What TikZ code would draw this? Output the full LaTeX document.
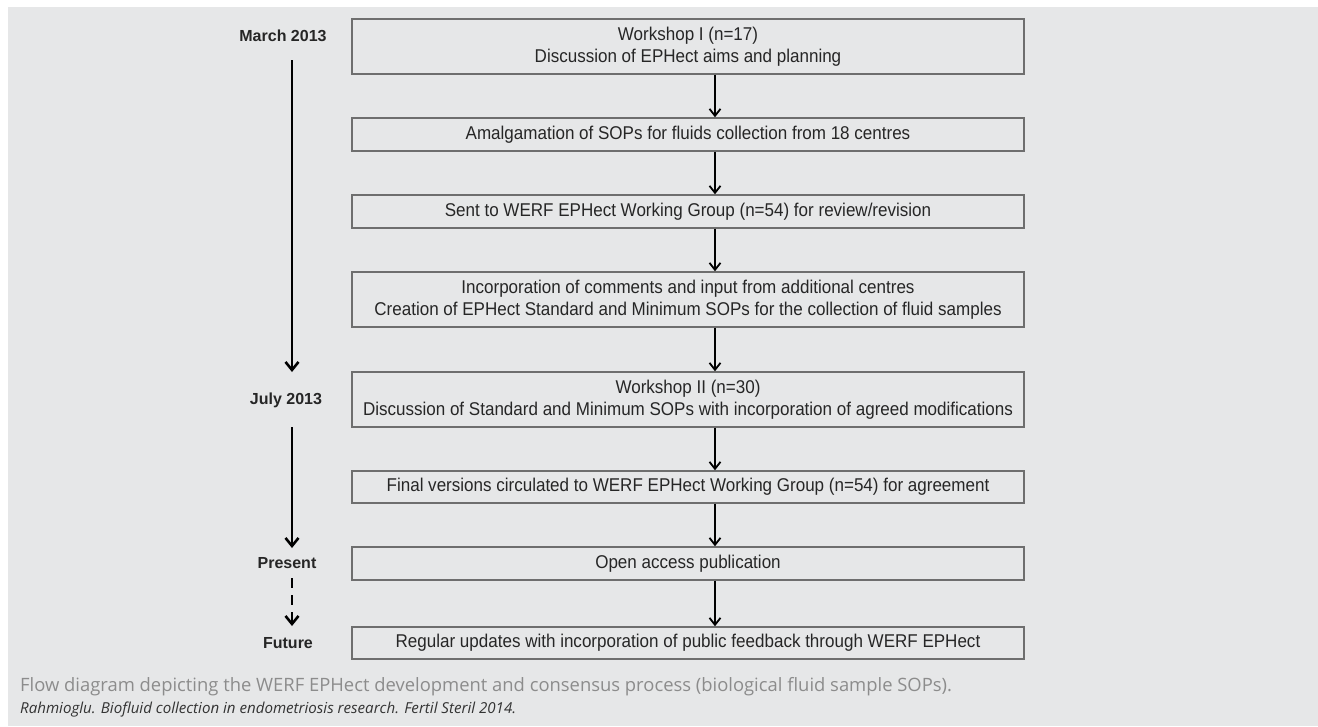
\documentclass[tikz,border=0pt]{standalone}
\usepackage{fontspec}
\setmainfont{Liberation Sans}
\newfontfamily\boxfont{Liberation Sans}[FakeStretch=0.92]
\newfontfamily\capfont{Open Sans}
\usetikzlibrary{arrows.meta}
\definecolor{bg}{HTML}{E6E7E8}
\definecolor{boxline}{HTML}{6E6E6E}
\definecolor{captext}{HTML}{8C8C8C}
\definecolor{citetext}{HTML}{333333}
\tikzset{
  stepbox/.style={draw=boxline, line width=1.4pt, fill=bg, minimum width=672pt, inner sep=0pt, align=center, font=\boxfont\fontsize{18.5}{22}\selectfont, text=black!85},
  when/.style={font=\bfseries\fontsize{16}{18}\selectfont, text=black!85, inner sep=0pt},
  arr/.style={line width=1.8pt, -{Straight Barb[length=7pt,width=11pt,line width=1.8pt]}},
  tarr/.style={line width=2.6pt, -{Straight Barb[length=8pt,width=13pt,line width=2.6pt]}},
}
\begin{document}
\begin{tikzpicture}[x=1pt,y=-1pt]
\useasboundingbox (0,0) rectangle (1318,726);
\fill[white] (0,0) rectangle (1318,726);
\fill[bg] (8,7) rectangle (1318,726);

\node[stepbox, minimum height=55pt] (b1) at (688,46.5) {Workshop I (n=17)\\Discussion of EPHect aims and planning};
\node[stepbox, minimum height=33pt] (b2) at (688,134.5) {Amalgamation of SOPs for fluids collection from 18 centres};
\node[stepbox, minimum height=33pt] (b3) at (688,211.5) {Sent to WERF EPHect Working Group (n=54) for review/revision};
\node[stepbox, minimum height=55pt] (b4) at (688,299.5) {Incorporation of comments and input from additional centres\\Creation of EPHect Standard and Minimum SOPs for the collection of fluid samples};
\node[stepbox, minimum height=55pt] (b5) at (688,399.5) {Workshop II (n=30)\\Discussion of Standard and Minimum SOPs with incorporation of agreed modifications};
\node[stepbox, minimum height=32pt] (b6) at (688,487) {Final versions circulated to WERF EPHect Working Group (n=54) for agreement};
\node[stepbox, minimum height=33pt] (b7) at (688,563.5) {Open access publication};
\node[stepbox, minimum height=32pt] (b8) at (688,643) {Regular updates with incorporation of public feedback through WERF EPHect};

\coordinate (ax) at (715,0);
\foreach \a/\b in {b1/b2,b2/b3,b3/b4,b4/b5,b5/b6,b6/b7,b7/b8}
  \draw[arr] (\a.south -| ax) -- (\b.north -| ax);

\node[when] (m1) at (283,36) {March 2013};
\node[when] (m2) at (286,400) {July 2013};
\node[when] (m3) at (287,563) {Present};
\node[when] (m4) at (288,643) {Future};

\coordinate (t1a) at (292,60);
\coordinate (t1b) at (292,372);
\coordinate (t2a) at (292,427);
\coordinate (t2b) at (292,548);
\coordinate (t3a) at (292,578);
\coordinate (t3b) at (292,626);
\draw[tarr] (t1a) -- (t1b);
\draw[tarr] (t2a) -- (t2b);
\draw[tarr, dash pattern=on 10pt off 7pt] (t3a) -- (t3b);

\node[anchor=base west, inner sep=0pt, font=\capfont\fontsize{18.4}{20}\selectfont, text=captext] (cap) at (20,691) {Flow diagram depicting the WERF EPHect development and consensus process (biological fluid sample SOPs).};
\node[anchor=base west, inner sep=0pt, font=\capfont\itshape\fontsize{15.1}{16}\selectfont, text=citetext] (cite) at (20,713) {Rahmioglu. Biofluid collection in endometriosis research. Fertil Steril 2014.};
\end{tikzpicture}
\end{document}
